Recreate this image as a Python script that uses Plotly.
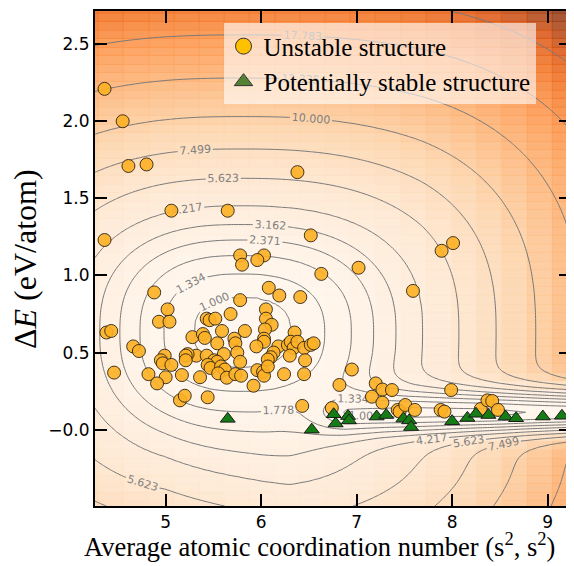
import numpy as np
import plotly.graph_objects as go

# ---------------- scatter data ----------------
unstable_x = [4.36, 4.55, 4.61, 4.80, 6.38, 5.06, 5.65, 4.36, 6.52, 7.89, 8.01, 5.78, 6.03, 5.96, 5.80,
              6.63, 7.02, 7.59, 4.88, 6.08, 6.19, 6.41, 5.78, 6.05, 5.02, 5.68, 5.43, 5.46, 5.52, 6.05,
              4.93, 5.04, 6.11, 5.59, 5.83, 6.04, 6.35, 4.38, 4.43, 5.28, 5.39, 5.41, 5.72, 5.73, 6.03,
              6.03, 5.54, 5.95, 5.75, 5.61, 6.18, 6.28, 6.31, 6.34, 6.38, 6.45, 6.52, 6.55, 6.13, 6.10,
              6.07, 6.30, 6.46, 5.32, 5.23, 5.43, 5.51, 5.54, 5.78, 5.44, 5.47, 5.58, 5.62, 5.55, 5.64,
              5.73, 5.79, 5.96, 6.02, 6.03, 6.07, 6.24, 6.45, 5.92, 5.36, 4.66, 4.72, 4.99, 5.21, 5.21,
              4.95, 4.97, 5.06, 4.82, 4.46, 5.00, 5.17, 4.91, 5.15, 5.20, 5.44, 6.82, 6.95, 7.20, 7.27,
              7.37, 7.16, 7.27, 7.99, 6.43, 6.74, 7.43, 7.45, 7.51, 7.61, 7.88, 7.92, 8.30, 8.37, 8.42,
              8.48]
unstable_y = [2.21, 2.00, 1.71, 1.72, 1.67, 1.42, 1.42, 1.23, 1.26, 1.16, 1.21, 1.13, 1.13, 1.10, 1.07,
              1.01, 1.05, 0.90, 0.89, 0.92, 0.87, 0.86, 0.84, 0.78, 0.78, 0.75, 0.72, 0.71, 0.72, 0.72,
              0.70, 0.70, 0.68, 0.64, 0.64, 0.65, 0.63, 0.63, 0.64, 0.60, 0.62, 0.595, 0.59, 0.56, 0.59,
              0.57, 0.56, 0.54, 0.50, 0.49, 0.54, 0.55, 0.57, 0.53, 0.57, 0.53, 0.55, 0.56, 0.50, 0.47,
              0.455, 0.48, 0.45, 0.48, 0.49, 0.48, 0.45, 0.44, 0.44, 0.42, 0.40, 0.41, 0.39, 0.365, 0.337,
              0.36, 0.35, 0.386, 0.375, 0.35, 0.41, 0.36, 0.36, 0.285, 0.34, 0.54, 0.51, 0.48, 0.48, 0.45,
              0.45, 0.43, 0.42, 0.36, 0.37, 0.34, 0.354, 0.30, 0.19, 0.22, 0.21, 0.29, 0.39, 0.30, 0.26,
              0.257, 0.214, 0.175, 0.257, 0.154, 0.14, 0.128, 0.117, 0.16, 0.128, 0.128, 0.117, 0.134, 0.19, 0.186,
              0.128]
stable_x = [5.65, 6.53, 6.76, 6.78, 6.91, 6.92, 7.21, 7.31, 7.49, 7.55, 7.57, 8.00, 8.16, 8.25, 8.38,
            8.56, 8.67, 8.95, 9.15]
stable_y = [0.07, 0.00, 0.10, 0.04, 0.088, 0.06, 0.085, 0.095, 0.072, 0.06, 0.017, 0.055, 0.076, 0.103, 0.095,
            0.085, 0.074, 0.085, 0.09]

# ---------------- contour levels / surface profile ----------------
contour_levels = [1.000, 1.334, 1.778, 2.371, 3.162, 4.217, 5.623, 7.499, 10.000, 13.335, 17.783, 23.714]
# distance from the upper minimum (scaled units) -> log10(value)
profile_d = [0.0, 0.23, 0.38, 0.50, 0.60, 0.70, 0.82, 1.00, 1.19, 1.40, 1.65, 1.93, 2.20, 2.60, 3.20]
profile_logz = [-0.05, 0.0, 0.125, 0.25, 0.375, 0.50, 0.625, 0.75, 0.875, 1.0, 1.125, 1.25, 1.375, 1.60, 1.90]
# floor of the lower (elongated) valley, log10 value along x
valley_x = [6.2, 6.9, 7.6, 8.4, 8.9, 9.3]
valley_logz = [0.15, -0.01, -0.04, -0.03, 0.01, 0.04]

y_tickvals = [0.0, 0.5, 1.0, 1.5, 2.0, 2.5]
y_ticktext = ["\u22120.0", "0.5", "1.0", "1.5", "2.0", "2.5"]
x_tickvals = [5, 6, 7, 8, 9]

XR = [4.26, 9.245]
YR = [-0.495, 2.715]
COLOR_MAX = 33.0


def surface(X, Y):
    cx, cy = 5.78, 0.63
    dx = X - cx
    rx = np.where(dx < 0, 2.1, 2.33 - 0.1 * np.clip(dx - 1.9, 0, None))
    u = np.abs(dx) / rx
    v = Y - cy
    w = np.clip(-v, 0, None)
    klow = np.interp(X, [5.0, 6.3], [0.95, 0.82])
    s = np.clip((w - 0.3) / 0.7, 0, 1)
    s = s * s * (3 - 2 * s)
    k = 1 - (1 - klow) * s
    v = np.where(v < 0, v * k, v)
    d = (u ** 2.5 + np.abs(v) ** 2.5) ** 0.4
    LA = np.interp(d, profile_d, profile_logz)
    yv = 0.11
    sg = np.where(Y > yv, 0.10, 0.09)
    G = np.exp(-0.5 * ((Y - yv) / sg) ** 2)
    t = np.clip((X - 6.15) / 0.75, 0, 1)
    m = t * t * (3 - 2 * t)
    F = np.interp(X, valley_x, valley_logz)
    L = LA * (1 - m * G) + m * G * F
    return 10 ** L


# fine grid for contours
xf = np.linspace(XR[0], XR[1], 200)
yf = np.linspace(YR[0], YR[1], 170)
XF, YF = np.meshgrid(xf, yf)
ZF = np.round(surface(XF, YF), 4)
zmin = float(ZF.min())

# coarse cells for the background (pcolormesh-like)
xe = 4.563 + 0.2639 * np.arange(-2, 19)
ye = 2.644 - 0.0555 * np.arange(-2, 62)[::-1]
xc = 0.5 * (xe[1:] + xe[:-1])
yc = 0.5 * (ye[1:] + ye[:-1])
XC, YC = np.meshgrid(xc, yc)
ZC = np.round(surface(XC, YC), 4)

oranges = [(255, 245, 235), (254, 230, 206), (253, 208, 162), (253, 174, 107), (253, 141, 60),
           (241, 105, 19), (217, 72, 1), (166, 54, 3), (127, 39, 4)]


def blended(alpha):
    out = []
    n = len(oranges) - 1
    for i, c in enumerate(oranges):
        r, g, b = [int(round(alpha * ch + (1 - alpha) * 255)) for ch in c]
        out.append([i / n, f"rgb({r},{g},{b})"])
    return out


fig = go.Figure()
# darker cell edges underneath
fig.add_trace(go.Heatmap(x=xe, y=ye, z=ZC, zmin=zmin, zmax=COLOR_MAX, colorscale=blended(0.9),
                         showscale=False, hoverinfo="skip", zsmooth=False, showlegend=False))
fig.add_trace(go.Heatmap(x=xe, y=ye, z=ZC, zmin=zmin, zmax=COLOR_MAX, colorscale=blended(0.8),
                         showscale=False, hoverinfo="skip", zsmooth=False, xgap=1, ygap=1,
                         showlegend=False))

for lv in contour_levels:
    fig.add_trace(go.Contour(
        x=xf, y=yf, z=ZF, showscale=False, hoverinfo="skip", showlegend=False,
        contours=dict(start=lv, end=lv, size=1, coloring="none", showlabels=True,
                      labelfont=dict(size=11, color="#808080", family="DejaVu Sans"),
                      labelformat=".3f"),
        line=dict(color="#787878", width=1),
    ))

fig.add_trace(go.Scatter(
    x=unstable_x, y=unstable_y, mode="markers", showlegend=False, hoverinfo="skip",
    marker=dict(symbol="circle", size=13, color="rgba(253,176,35,0.9)",
                line=dict(color="rgba(45,35,20,0.9)", width=1)),
))
fig.add_trace(go.Scatter(
    x=stable_x, y=stable_y, mode="markers", showlegend=False, hoverinfo="skip",
    marker=dict(symbol="triangle-up", size=13, color="#167d16",
                line=dict(color="#1a1a1a", width=1)),
))
# legend entries
fig.add_trace(go.Scatter(
    x=[None], y=[None], mode="markers", name="Unstable structure",
    marker=dict(symbol="circle", size=20, color="#FFC000", line=dict(color="#333", width=1)),
))
fig.add_trace(go.Scatter(
    x=[None], y=[None], mode="markers", name="Potentially stable structure",
    marker=dict(symbol="triangle-up", size=20, color="#548235", line=dict(color="#333", width=1)),
))

axis_common = dict(showline=True, linecolor="black", linewidth=2, mirror="ticks",
                   ticks="inside", ticklen=12, tickwidth=1.5, tickcolor="black",
                   showgrid=False, zeroline=False,
                   tickfont=dict(family="DejaVu Sans", size=17, color="black"))

title_font = dict(family="Liberation Serif", color="black")

fig.update_layout(
    width=574, height=566,
    margin=dict(l=87, r=11, t=1, b=68),
    paper_bgcolor="white", plot_bgcolor="white",
    xaxis=dict(range=XR, tickvals=x_tickvals, **axis_common),
    yaxis=dict(range=YR, tickvals=y_tickvals, ticktext=y_ticktext, **axis_common),
    legend=dict(x=0.27, y=0.975, xanchor="left", yanchor="top",
                bgcolor="rgba(255,255,255,0.6)", borderwidth=0,
                font=dict(family="Liberation Serif", size=25, color="black"),
                itemsizing="trace", tracegroupgap=0),
    showlegend=True,
    annotations=[
        dict(text="Average atomic coordination number (s<sup>2</sup>, s<sup>2</sup>)",
             xref="paper", yref="paper", x=0.472, y=-0.078, xanchor="center", yanchor="middle",
             showarrow=False, font=dict(size=26.5, **title_font)),
        dict(text="\u0394<i>E</i> (eV/atom)", textangle=-90,
             xref="paper", yref="paper", x=-0.147, y=0.499, xanchor="center", yanchor="middle",
             showarrow=False, font=dict(size=32, **title_font)),
    ],
)

fig.write_html("out.html", config={"displayModeBar": False})
